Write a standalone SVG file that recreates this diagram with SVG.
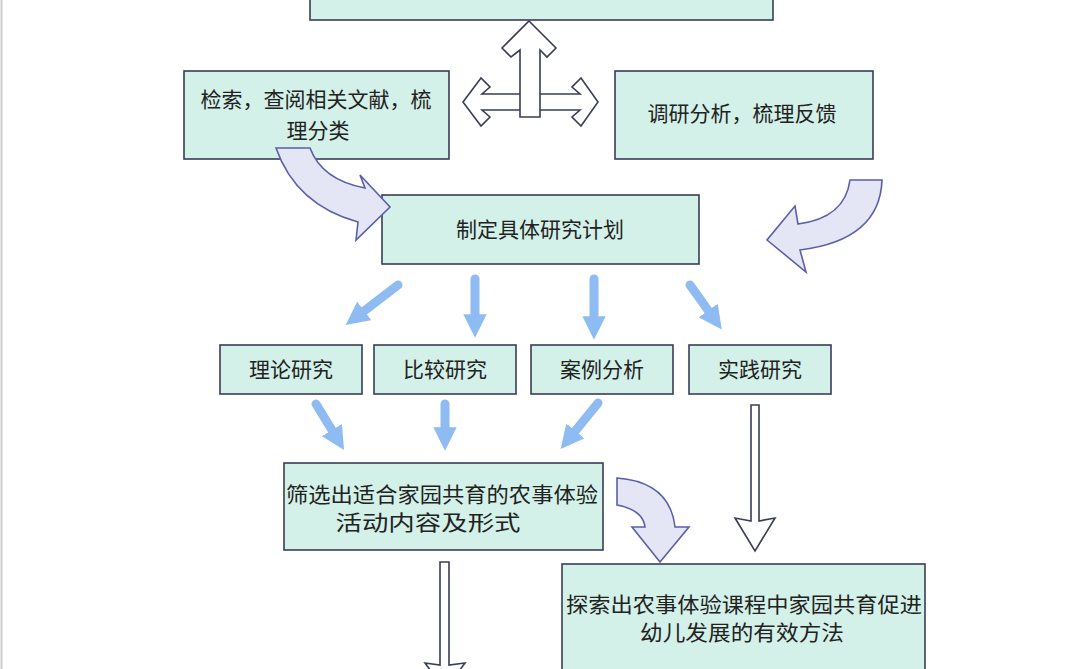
<svg xmlns="http://www.w3.org/2000/svg" width="1080" height="669" viewBox="0 0 1080 669">
<style>
.box{fill:#d3f1e8;stroke:#3a3d57;stroke-width:1.6}
.t{font-family:"Noto Sans CJK SC","Noto Sans",sans-serif;font-size:21px;fill:#222;text-anchor:middle}
.blue{stroke:#8ebcf2;stroke-width:9;stroke-linecap:round;fill:none}
.out{fill:#fff;stroke:#3a3d57;stroke-width:1.6;stroke-linejoin:miter}
.curve{fill:#e4e6f6;stroke:#5a5fa8;stroke-width:1.6}
</style>
<defs>
<marker id="bh" viewBox="0 0 10 10" refX="5" refY="5" markerWidth="2.6" markerHeight="2.6" orient="auto" markerUnits="strokeWidth">
<path d="M0,0 L10,5 L0,10 z" fill="#8ebcf2"/>
</marker>
</defs>
<rect width="1080" height="669" fill="#fff"/>
<line x1="1.5" y1="0" x2="1.5" y2="669" stroke="#ccc" stroke-width="2"/>
<g id="top"><rect class="box" x="310" y="-10" width="463" height="30"/></g>
<g id="n1"><rect class="box" x="184" y="71" width="265" height="88"/><text class="t" x="316" y="107">检索，查阅相关文献，梳</text><text class="t" x="318" y="138">理分类</text></g>
<g id="n2"><rect class="box" x="615" y="71" width="258" height="88"/><text class="t" x="742" y="121">调研分析，梳理反馈</text></g>
<g id="n3"><rect class="box" x="382" y="195" width="317" height="69"/><text class="t" x="540" y="237">制定具体研究计划</text></g>
<g id="n4"><rect class="box" x="220" y="345" width="142" height="49"/><text class="t" x="291" y="377">理论研究</text></g>
<g id="n5"><rect class="box" x="374" y="345" width="142" height="49"/><text class="t" x="445" y="377">比较研究</text></g>
<g id="n6"><rect class="box" x="531" y="345" width="142" height="49"/><text class="t" x="602" y="377">案例分析</text></g>
<g id="n7"><rect class="box" x="689" y="345" width="142" height="49"/><text class="t" x="760" y="377">实践研究</text></g>
<g id="n8"><rect class="box" x="284" y="463" width="319" height="87"/><text class="t" x="442" y="502" textLength="312" lengthAdjust="spacingAndGlyphs">筛选出适合家园共育的农事体验</text><text class="t" x="428" y="530" textLength="185" lengthAdjust="spacingAndGlyphs">活动内容及形式</text></g>
<g id="n9"><rect class="box" x="562" y="564" width="363" height="115"/><text class="t" x="744" y="612" textLength="356" lengthAdjust="spacingAndGlyphs">探索出农事体验课程中家园共育促进</text><text class="t" x="742" y="640" textLength="204" lengthAdjust="spacingAndGlyphs">幼儿发展的有效方法</text></g>
<g id="connectors">
<path class="out" d="M463,102 L481,78 L490,87 L482,94 L580,94 L572,87 L581,78 L598,102 L581,126 L572,117 L580,110 L482,110 L490,117 L481,126 Z"/>
<path class="out" d="M529,21 L556,48 L547,57 L540,50 L540,117 L520,117 L520,50 L511,57 L502,48 Z"/>
<path class="curve" d="M276,148 L310,148 Q322,180 365,188 L360,175 L390,207 L356,240 L358,222 Q296,205 276,148 Z"/>
<path class="curve" d="M850,180 L882,180 Q880,240 800,250 L806,272 L767,240 L795,206 L798,224 Q845,218 850,180 Z"/>
<path class="curve" d="M617,478 Q670,482 675,527 L689,527 L660,562 L632,527 L645,527 Q643,510 617,505 Z"/>
<line class="blue" x1="398" y1="285" x2="355" y2="318" marker-end="url(#bh)"/>
<line class="blue" x1="475" y1="279" x2="475" y2="326" marker-end="url(#bh)"/>
<line class="blue" x1="594" y1="279" x2="594" y2="328" marker-end="url(#bh)"/>
<line class="blue" x1="690" y1="285" x2="715" y2="320" marker-end="url(#bh)"/>
<line class="blue" x1="316" y1="404" x2="338" y2="440" marker-end="url(#bh)"/>
<line class="blue" x1="445" y1="404" x2="445" y2="439" marker-end="url(#bh)"/>
<line class="blue" x1="598" y1="403" x2="568" y2="440" marker-end="url(#bh)"/>
<path class="out" d="M751,405 L759,405 L759,521 L775,518 L755,551 L735,518 L751,521 Z"/>
<path class="out" d="M440,562 L449,562 L449,665 L465,663 L445,690 L425,663 L440,665 Z"/>
</g>
</svg>
